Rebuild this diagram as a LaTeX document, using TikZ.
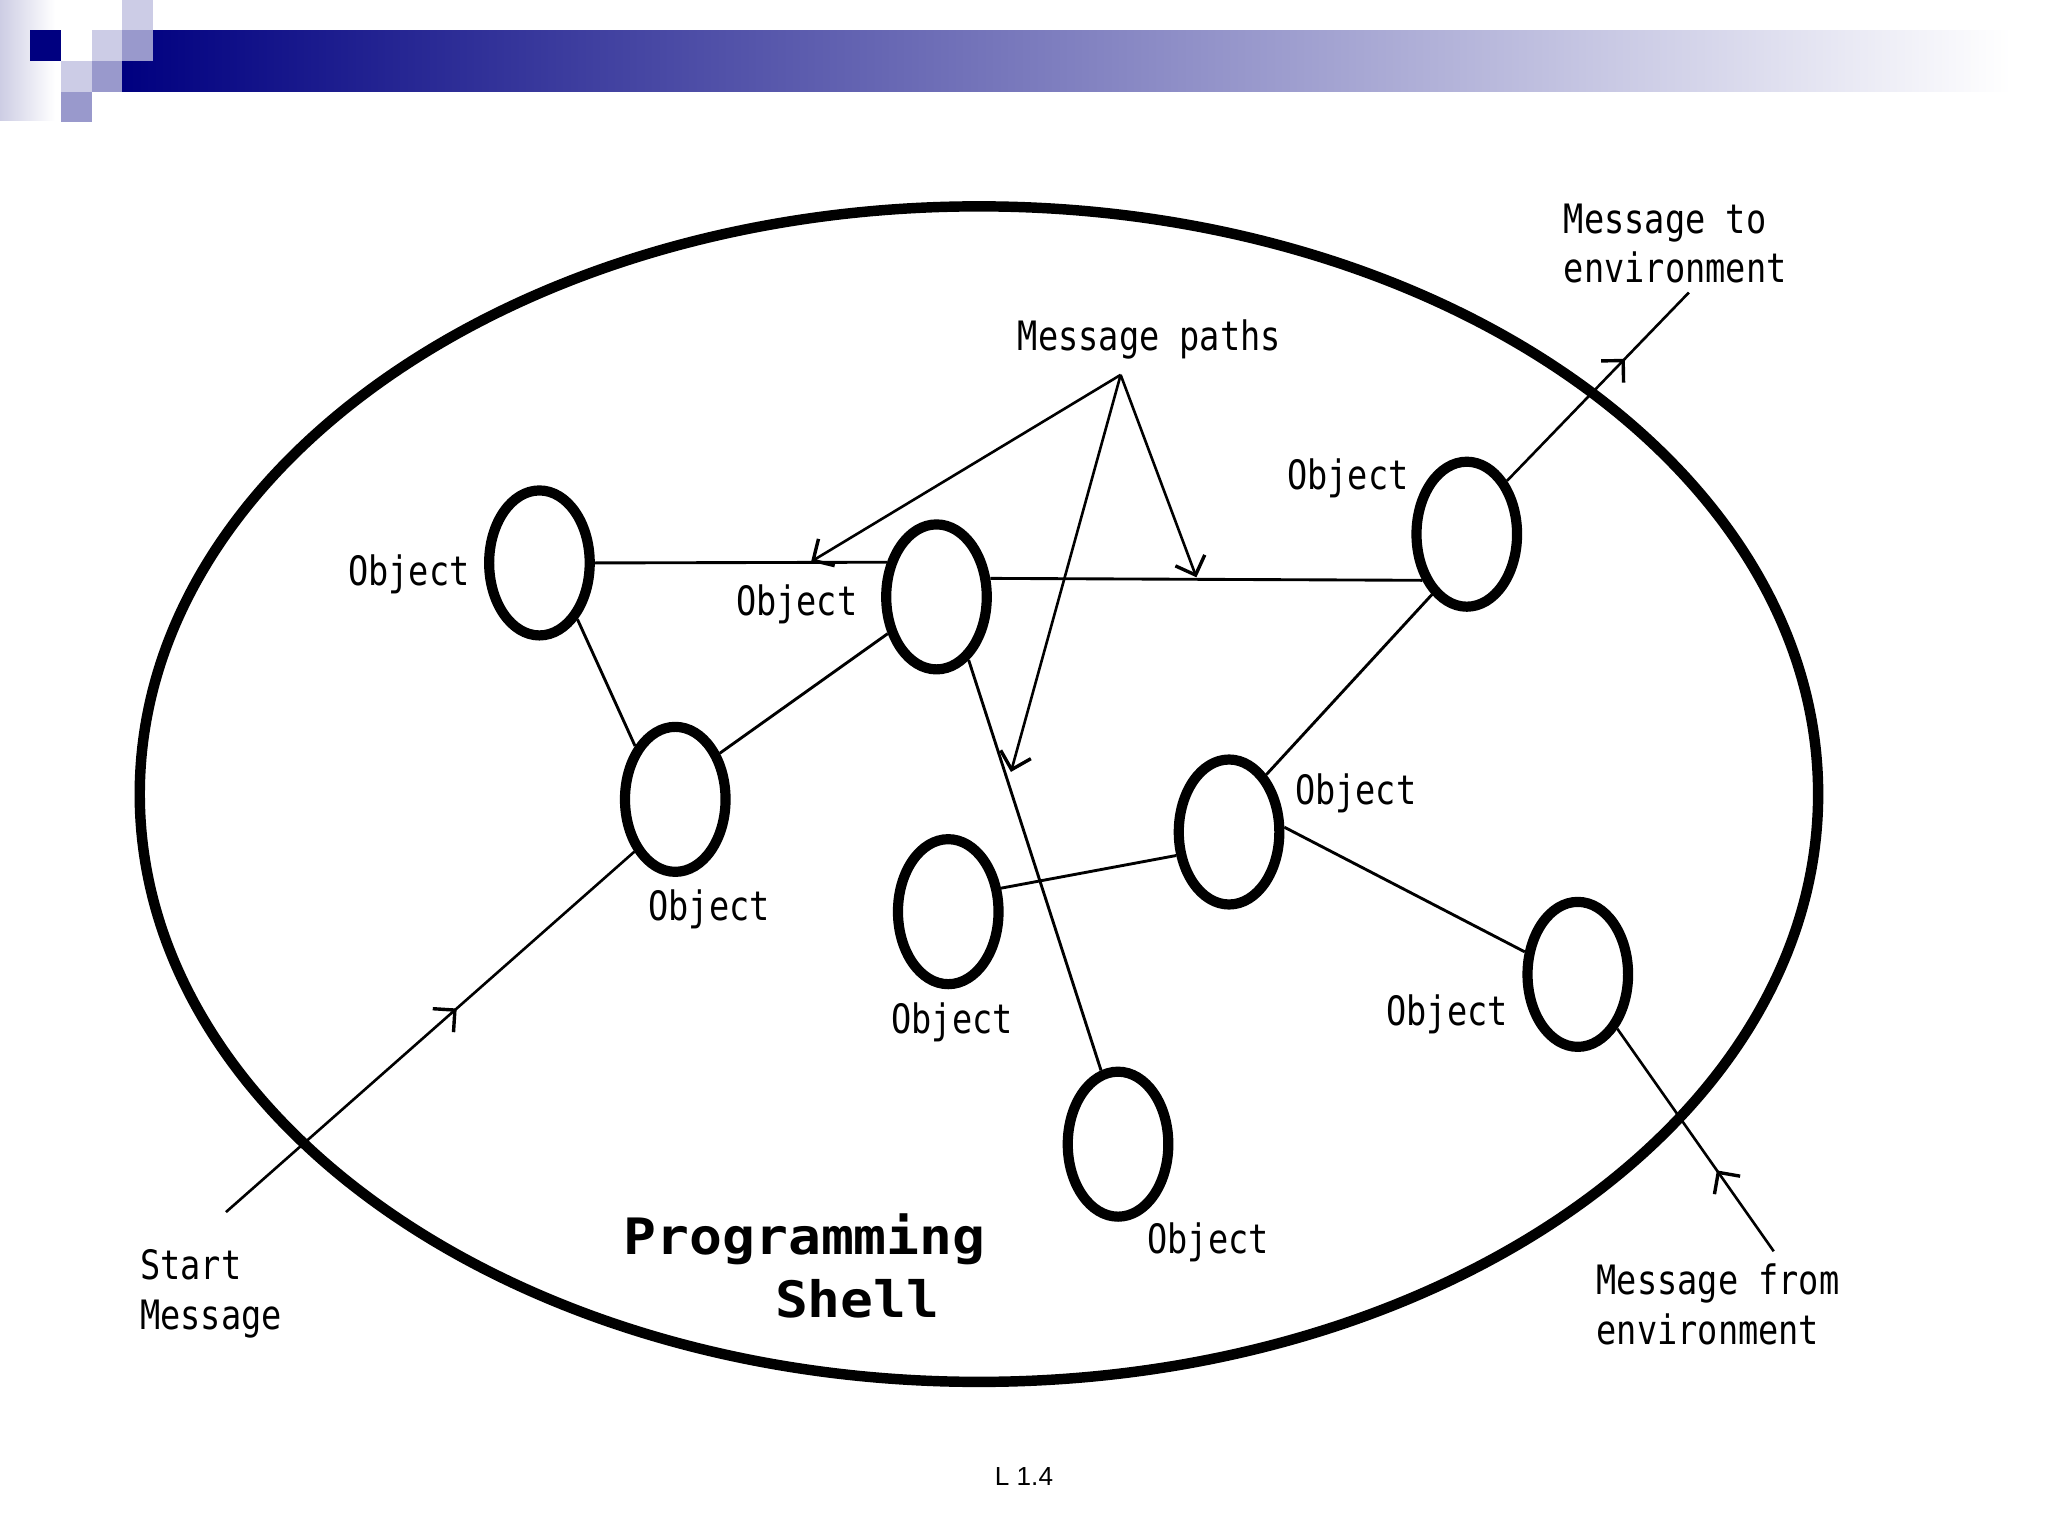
\documentclass[tikz,border=0pt]{standalone}
\usepackage{fontspec}
\newfontfamily\pixfont[FakeStretch=0.83]{DejaVu Sans Mono}
\newfontfamily\pixboldfont[FakeStretch=1.09]{DejaVu Sans Mono}
\newfontfamily\slidefont{Liberation Sans}
\usetikzlibrary{shapes.geometric,arrows.meta,decorations.markings}
\definecolor{navyhd}{RGB}{0,0,128}
\definecolor{lighthd}{RGB}{204,204,230}
\definecolor{medhd}{RGB}{153,153,204}
\definecolor{striphd}{RGB}{205,205,228}
\begin{document}
\begin{tikzpicture}[x=0.5pt,y=-0.5pt,
  obj/.style={draw, ellipse, line width=3.9pt, fill=white, minimum width=38.5pt, minimum height=55.5pt, inner sep=0pt},
  shellbox/.style={draw, ellipse, line width=4pt, minimum width=642.5pt, minimum height=450pt, inner sep=0pt},
  lbl/.style={font={\pixfont\fontsize{15.5pt}{19pt}\selectfont}, inner sep=0pt},
  biglbl/.style={font={\pixboldfont\bfseries\fontsize{19.2pt}{24pt}\selectfont}, inner sep=0pt},
  conn/.style={line width=1.1pt},
  msg/.style={line width=1pt},
  barb/.tip={Straight Barb[length=6pt,width=12pt,line width=1.3pt]},
  tipmark/.style={postaction={decorate}, decoration={markings, mark=at position #1 with {\arrow{barb}}}}
]
\fill[white] (0,0) rectangle (1568,1176);
\useasboundingbox (0,0) rectangle (1568,1176);
% header
\shade[left color=striphd, right color=white] (0,0) rectangle (42,92);
\shade[left color=navyhd, right color=white] (93.4,23) rectangle (1540,70.4);
\fill[navyhd] (23,23) rectangle (47,47);
\fill[lighthd] (70.4,23) rectangle (93.4,46.7);
\fill[lighthd] (93.4,0) rectangle (117,23);
\fill[lighthd] (46.7,46.7) rectangle (70.4,70.4);
\fill[medhd] (93.4,23) rectangle (117,46.7);
\fill[medhd] (70.4,46.7) rectangle (93.4,70.4);
\fill[medhd] (46.7,70.4) rectangle (70.4,93.4);

% shell
\node[shellbox] (shell) at (749.5,608) {};

% objects
\node[obj] (o1) at (413,431) {};
\node[obj] (o2) at (717,457) {};
\node[obj] (o3) at (1123,409) {};
\node[obj] (o4) at (517,612) {};
\node[obj] (o5) at (941,637) {};
\node[obj] (o6) at (726,698) {};
\node[obj] (o7) at (1208,746) {};
\node[obj] (o8) at (856,876) {};

% labels
\node[lbl, anchor=base] (t1) at (313,448) {Object};
\node[lbl, anchor=base] (t2) at (610,471) {Object};
\node[lbl, anchor=base] (t3) at (1032,375) {Object};
\node[lbl, anchor=base] (t4) at (543,705) {Object};
\node[lbl, anchor=base] (t5) at (1038,616) {Object};
\node[lbl, anchor=base] (t6) at (729,791) {Object};
\node[lbl, anchor=base] (t7) at (1108,785) {Object};
\node[lbl, anchor=base] (t8) at (925,960) {Object};
\node[lbl, anchor=base] (mpl) at (880,268) {Message paths};
\node[lbl, anchor=north west, align=left] (tenv) at (1197,155.4) {Message to\\environment};
\node[lbl, anchor=north west, align=left] (tstart) at (107,956.4) {Start\\Message};
\node[lbl, anchor=north west, align=left] (tfrom) at (1222,967.4) {Message from\\environment};
\node[biglbl, anchor=north west, align=left] (tshell) at (477,929) {Programming\\\hspace*{58pt}Shell};
\node[font={\slidefont\fontsize{10pt}{12pt}\selectfont}, inner sep=0pt, anchor=base] (pg) at (784,1137) {L 1.4};

% connectors between objects
\draw[conn] (o1.0) -- (o2.145);
\draw[conn] (o2.19) -- (o3.226);
\draw[conn] (o1.304) -- (o4.127);
\draw[conn] (o4.46) -- (o2.217);
\draw[conn] (o2.297) -- (o8.103);
\draw[conn] (o3.240) -- (o5.57);
\draw[conn] (o5.204) -- (o6.24);
\draw[conn] (o5.5) -- (o7.157);

% message paths
\coordinate (mpa) at (858,287);
\coordinate (mt1) at (621,430);
\coordinate (mt2) at (774,591);
\coordinate (mt3) at (916,442);
\draw[msg,-barb] (mpa) -- (mt1);
\draw[msg,-barb] (mpa) -- (mt2);
\draw[msg,-barb] (mpa) -- (mt3);

% environment messages
\coordinate (sm) at (173,928);
\draw[msg, tipmark=0.565] (sm) -- (o4.232);
\coordinate (me) at (1293,224);
\draw[msg, tipmark=0.65] (o3.53) -- (me);
\coordinate (mf) at (1358,958);
\draw[msg, tipmark=0.364] (mf) -- (o7.306);
\end{tikzpicture}
\end{document}
